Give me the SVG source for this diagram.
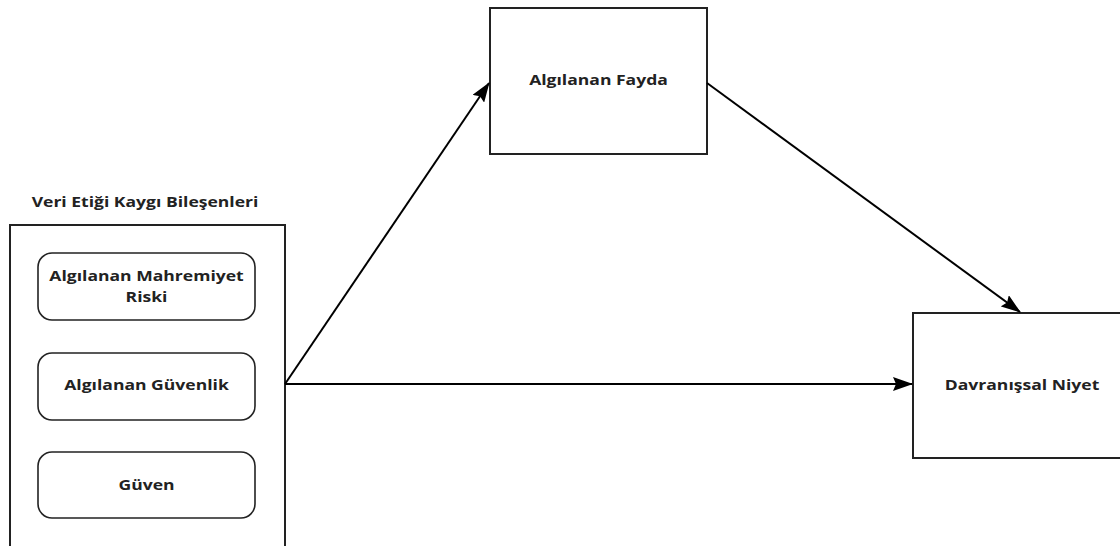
<svg xmlns="http://www.w3.org/2000/svg" width="1120" height="546" viewBox="0 0 1120 546">
<style>
.box{fill:#fff;stroke:#222;stroke-width:2}
.rbox{fill:#fff;stroke:#222;stroke-width:1.6}
.t{font-family:"Open Sans",sans-serif;font-weight:bold;font-size:15px;fill:#222;text-anchor:middle}
.c{stroke:#000;stroke-width:2;fill:none}
</style>
<defs>
<marker id="ah" markerWidth="20" markerHeight="14" refX="19" refY="7" orient="auto" markerUnits="userSpaceOnUse" viewBox="0 0 20 14">
<path d="M0,0 L20,7 L0,14 L3,7 Z" fill="#000"/>
</marker>
</defs>
<rect width="1120" height="546" fill="#fff"/>
<g id="container">
<text class="t" transform="translate(145,207) scale(1.17,1)">Veri Etiği Kaygı Bileşenleri</text>
<rect class="box" x="10" y="225" width="275" height="330"/>
</g>
<g id="mahremiyet">
<rect class="rbox" x="38" y="253" width="217" height="67" rx="14"/>
<text class="t" transform="translate(146.5,281) scale(1.17,1)">Algılanan Mahremiyet</text>
<text class="t" transform="translate(146.5,302) scale(1.17,1)">Riski</text>
</g>
<g id="guvenlik">
<rect class="rbox" x="38" y="353" width="217" height="67" rx="14"/>
<text class="t" transform="translate(146.5,390) scale(1.17,1)">Algılanan Güvenlik</text>
</g>
<g id="guven">
<rect class="rbox" x="38" y="452" width="217" height="66" rx="14"/>
<text class="t" transform="translate(146.5,490) scale(1.17,1)">Güven</text>
</g>
<g id="fayda">
<rect class="box" x="490" y="8" width="217" height="146"/>
<text class="t" transform="translate(598.5,85) scale(1.17,1)">Algılanan Fayda</text>
</g>
<g id="niyet">
<rect class="box" x="913" y="313" width="210" height="145"/>
<text class="t" transform="translate(1022,390) scale(1.17,1)">Davranışsal Niyet</text>
</g>
<g id="connectors">
<line class="c" x1="285" y1="384" x2="489" y2="83" marker-end="url(#ah)"/>
<line class="c" x1="285" y1="384" x2="912" y2="384" marker-end="url(#ah)"/>
<line class="c" x1="707" y1="83" x2="1020" y2="312" marker-end="url(#ah)"/>
</g>
</svg>
